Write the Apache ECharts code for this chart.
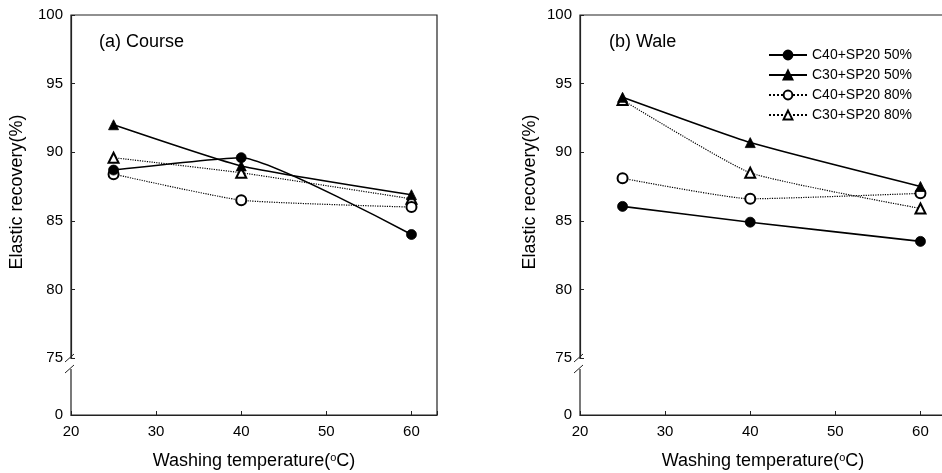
<!DOCTYPE html>
<html>
<head>
<meta charset="utf-8">
<script src="https://cdn.jsdelivr.net/npm/echarts@6/dist/echarts.min.js"></script>
<style>
  html, body { margin: 0; background: #fff; }
  #chart { width: 942px; height: 473px; }
</style>
</head>
<body>
<div id="chart"></div>
<script>
// washing temperatures (x)
const temps = [25, 40, 60];
const seriesNames = ['C40+SP20 50%', 'C30+SP20 50%', 'C40+SP20 80%', 'C30+SP20 80%'];
// (a) Course
const courseC40_50 = [88.7, 89.6, 84.0];
const courseC30_50 = [92.0, 89.0, 86.9];
const courseC40_80 = [88.4, 86.5, 86.0];
const courseC30_80 = [89.6, 88.5, 86.6];
// (b) Wale
const waleC40_50 = [86.05, 84.9, 83.5];
const waleC30_50 = [94.0, 90.7, 87.5];
const waleC40_80 = [88.1, 86.6, 87.0];
const waleC30_80 = [93.8, 88.5, 85.9];
// tick labels
const xTicks = [20, 30, 40, 50, 60];
const yTicks = [0, 75, 80, 85, 90, 95, 100];

const font = 'Liberation Sans, Arial, sans-serif';
const styles = [
  { symbol: 'circle', size: 10, line: 'solid', width: 1.6 },
  { symbol: 'triangle', size: 10, line: 'solid', width: 1.6 },
  { symbol: 'emptyCircle', size: 10, line: 'dotted', width: 1.2 },
  { symbol: 'emptyTriangle', size: 10, line: 'dotted', width: 1.2 }
];

function pairs(vals) {
  return temps.map((t, i) => [t, vals[i]]);
}

function makeSeries(idx, data) {
  return data.map((vals, k) => ({
    name: seriesNames[k],
    type: 'line',
    xAxisIndex: idx,
    yAxisIndex: idx,
    data: pairs(vals),
    smooth: 0.15,
    symbol: styles[k].symbol,
    symbolSize: styles[k].size,
    lineStyle: { color: '#000', width: styles[k].width, type: styles[k].line },
    itemStyle: { color: '#000', borderColor: '#000', borderWidth: 0.8 },
    z: 10 - k
  }));
}

function xAxis(idx) {
  return {
    type: 'value', gridIndex: idx, min: 20, max: 63, interval: 10,
    name: 'Washing temperature({sup|o}C)',
    nameLocation: 'middle', nameGap: 37,
    nameTextStyle: {
      fontFamily: font, fontSize: 18, color: '#000',
      rich: { sup: { fontSize: 11, verticalAlign: 'top', padding: [0, 0, 8, 0], fontFamily: font, color: '#000' } }
    },
    axisLine: { lineStyle: { color: '#222', width: 1.2 } },
    axisTick: { inside: true, length: 4, lineStyle: { color: '#222' } },
    axisLabel: {
      fontFamily: font, fontSize: 15, color: '#000', margin: 9,
      formatter: v => xTicks.indexOf(v) >= 0 ? String(v) : ''
    },
    splitLine: { show: false }
  };
}

function yAxis(idx, gap) {
  return {
    type: 'value', gridIndex: idx, min: 0, max: 100, interval: 5,
    breaks: [{ start: 0, end: 75, gap: '14.25%' }],
    breakArea: { show: false },
    name: 'Elastic recovery(%)',
    nameLocation: 'middle', nameGap: gap, nameRotate: 90,
    nameTextStyle: { fontFamily: font, fontSize: 18, color: '#000', padding: [0, 0, 0, 46] },
    axisLine: { lineStyle: { color: '#222', width: 1.2 } },
    axisTick: { inside: true, length: 4, lineStyle: { color: '#222' } },
    axisLabel: {
      fontFamily: font, fontSize: 15, color: '#000', margin: 8,
      formatter: v => yTicks.indexOf(v) >= 0 ? String(v) : ''
    },
    splitLine: { show: false }
  };
}

const chart = echarts.init(document.getElementById('chart'));
chart.setOption({
  backgroundColor: '#fff',
  animation: false,
  title: [
    { text: '(a) Course', left: 94, top: 28, textStyle: { fontFamily: font, fontSize: 18, fontWeight: 'normal', color: '#000' } },
    { text: '(b) Wale', left: 604, top: 28, textStyle: { fontFamily: font, fontSize: 18, fontWeight: 'normal', color: '#000' } }
  ],
  legend: {
    data: seriesNames,
    orient: 'vertical',
    left: 763, top: 43,
    itemWidth: 38, itemHeight: 11, itemGap: 6,
    textStyle: { fontFamily: font, fontSize: 14, color: '#000' }
  },
  grid: [
    { left: 71, top: 15, width: 366, height: 400, outerBoundsMode: 'none', show: true, borderColor: '#222', borderWidth: 1.2 },
    { left: 580, top: 15, width: 366, height: 400, outerBoundsMode: 'none', show: true, borderColor: '#222', borderWidth: 1.2 }
  ],
  xAxis: [xAxis(0), xAxis(1)],
  yAxis: [yAxis(0, 45), yAxis(1, 41)],
  series: [
    ...makeSeries(0, [courseC40_50, courseC30_50, courseC40_80, courseC30_80]),
    ...makeSeries(1, [waleC40_50, waleC30_50, waleC40_80, waleC30_80])
  ]
});

// break marks "//" on the y axes just below 75, with a gap in the axis line
const marks = [];
[0, 1].forEach(g => {
  const p = chart.convertToPixel({ gridIndex: g }, [20, 75]);
  marks.push({
    type: 'rect',
    shape: { x: p[0] - 2, y: p[1] + 1, width: 4, height: 10 },
    style: { fill: '#fff' },
    z: 100
  });
  [0, 11].forEach(dy => {
    marks.push({
      type: 'line',
      shape: { x1: p[0] - 6, y1: p[1] + 4 + dy, x2: p[0] + 3, y2: p[1] - 4 + dy },
      style: { stroke: '#222', lineWidth: 1 },
      z: 101
    });
  });
});
chart.setOption({ graphic: marks });
</script>
</body>
</html>
